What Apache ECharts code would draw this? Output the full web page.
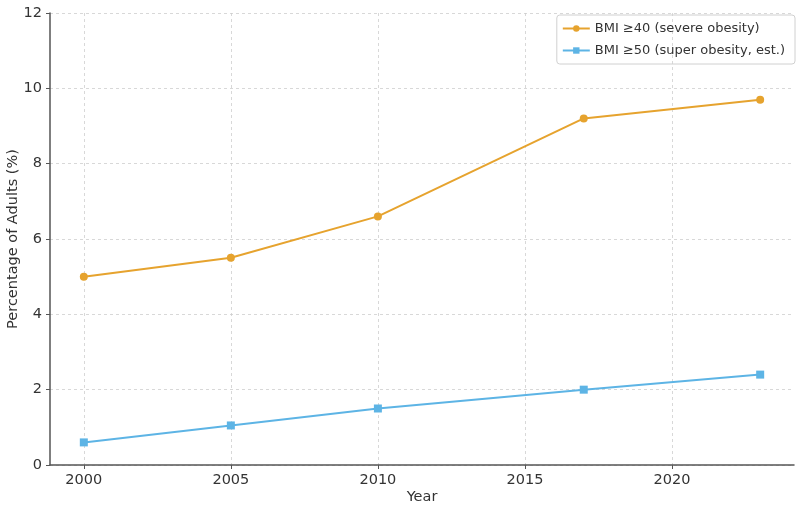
<!DOCTYPE html>
<html><head><meta charset="utf-8">
<script src="https://cdn.jsdelivr.net/npm/echarts@6/dist/echarts.min.js"></script>
<style>html,body{margin:0;padding:0;background:#fff}#c{width:800px;height:511px}</style>
</head><body><div id="c"></div>
<script>
const years = [2000, 2005, 2010, 2017, 2023];
const severe = [5.0, 5.5, 6.6, 9.2, 9.7];
const superOb = [0.6, 1.05, 1.5, 2.0, 2.4];
const xTicks = [2000, 2005, 2010, 2015, 2020];
const seriesNames = ['BMI ≥40 (severe obesity)', 'BMI ≥50 (super obesity, est.)'];
const yTitle = 'Percentage of Adults (%)';
const xTitle = 'Year';

const font = 'DejaVu Sans';
const chart = echarts.init(document.getElementById('c'));
chart.setOption({
  animation: false,
  textStyle: {fontFamily: font},
  grid: {left: 50, right: 6, top: 13, bottom: 46, outerBoundsMode: 'none', containLabel: false},
  graphic: [{
    type: 'text', x: 13, y: 239, rotation: Math.PI / 2,
    style: {text: yTitle, font: '14.5px "DejaVu Sans"', fill: '#333', align: 'center', verticalAlign: 'middle'}
  }],
  legend: {
    right: 5, top: 15, orient: 'vertical', itemGap: 9,
    borderColor: '#d0d0d0', borderWidth: 1, borderRadius: 3, padding: [7, 10, 7, 5],
    itemWidth: 27, itemHeight: 8,
    textStyle: {fontFamily: font, fontSize: 13, color: '#333'},
    data: seriesNames
  },
  xAxis: {
    type: 'value', min: 1998.85, max: 2024.15,
    name: xTitle, nameLocation: 'middle', nameGap: 25, nameMoveOverlap: false,
    nameTextStyle: {fontFamily: font, fontSize: 14.5, color: '#333'},
    axisLine: {lineStyle: {color: '#555', width: 1.5}},
    axisTick: {show: true, customValues: xTicks, length: 4, lineStyle: {color: '#555'}},
    axisLabel: {customValues: xTicks, formatter: v => String(v), fontFamily: font, fontSize: 14.5, color: '#333', margin: 8},
    splitLine: {show: true, lineStyle: {color: '#cfcfcf', type: [3, 3], width: 0.8}}
  },
  yAxis: {
    type: 'value', min: 0, max: 12, interval: 2,
    axisLine: {show: true, lineStyle: {color: '#555', width: 1.5}},
    axisTick: {show: true, length: 4, lineStyle: {color: '#555'}},
    axisLabel: {fontFamily: font, fontSize: 14.5, color: '#333', margin: 8},
    splitLine: {show: true, lineStyle: {color: '#cfcfcf', type: [3, 3], width: 0.8}}
  },
  series: [
    {
      name: seriesNames[0], type: 'line',
      data: years.map((y, i) => [y, severe[i]]),
      symbol: 'circle', symbolSize: 8,
      itemStyle: {color: '#E6A32E'}, lineStyle: {color: '#E6A32E', width: 2}
    },
    {
      name: seriesNames[1], type: 'line',
      data: years.map((y, i) => [y, superOb[i]]),
      symbol: 'rect', symbolSize: 8,
      itemStyle: {color: '#5DB4E5'}, lineStyle: {color: '#5DB4E5', width: 2}
    }
  ]
});
</script></body></html>
